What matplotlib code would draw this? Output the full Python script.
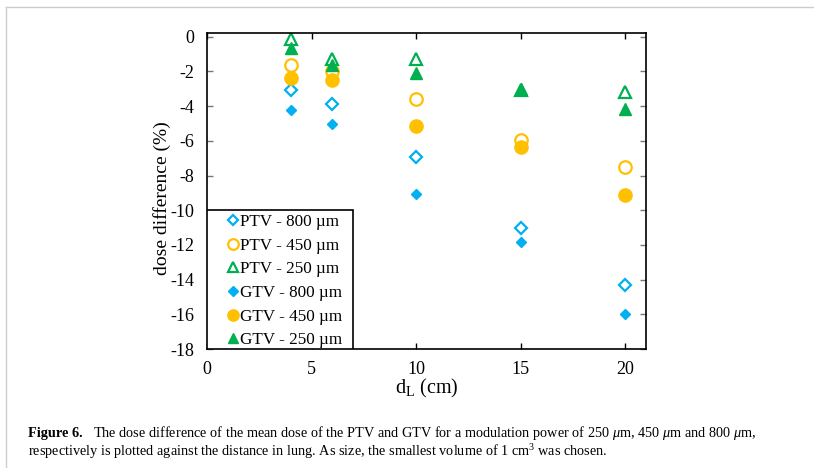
import matplotlib
matplotlib.use("Agg")
import matplotlib.pyplot as plt
from matplotlib.lines import Line2D
from matplotlib.patches import Rectangle

plt.rcParams['font.family'] = ['Liberation Serif', 'DejaVu Serif']
plt.rcParams['mathtext.fontset'] = 'custom'
plt.rcParams['mathtext.rm'] = 'Liberation Serif'
plt.rcParams['mathtext.it'] = 'Liberation Serif:italic'
plt.rcParams['axes.unicode_minus'] = False

# data
d_L = [4, 6, 10, 15, 20]
ptv_800 = [-3.05, -3.9, -6.95, -11.0, -14.3]
ptv_450 = [-1.65, -1.95, -3.6, -5.95, -7.5]
ptv_250 = [-0.1, -1.3, -1.3, -3.05, -3.2]
gtv_800 = [-4.25, -5.0, -9.05, -11.85, -16.0]
gtv_450 = [-2.4, -2.5, -5.15, -6.35, -9.1]
gtv_250 = [-0.65, -1.65, -2.1, -3.0, -4.15]

blue = '#00B0F0'
orange = '#FFC000'
green = '#00B050'

fig = plt.figure(figsize=(8.14, 4.68), dpi=100)
ax = fig.add_axes([207 / 814, 1 - 349 / 468, (646 - 207) / 814, (349 - 33.3) / 468])

# open markers (PTV)
ax.plot(d_L, ptv_800, 'D', ls='none', mfc='white', mec=blue, mew=1.6, ms=6.5, label='PTV - 800 µm')
ax.plot(d_L, ptv_450, 'o', ls='none', mfc='white', mec=orange, mew=1.6, ms=9, label='PTV - 450 µm')
ax.plot(d_L, ptv_250, '^', ls='none', mfc='white', mec=green, mew=1.6, ms=8.5, label='PTV - 250 µm')
# filled markers (GTV)
ax.plot(d_L, gtv_800, 'D', ls='none', color=blue, ms=5.5, label='GTV - 800 µm')
ax.plot(d_L, gtv_450, 'o', ls='none', color=orange, ms=9.5, label='GTV - 450 µm')
ax.plot(d_L, gtv_250, '^', ls='none', color=green, ms=8, label='GTV - 250 µm')

ax.set_xlim(0, 21)
ax.set_ylim(-18, 0.2)
ax.set_xticks([0, 5, 10, 15, 20])
ax.set_yticks(range(-18, 1, 2))
ax.tick_params(direction='in', top=True, right=True, labelsize=13, length=4, width=1, pad=9)
ax.tick_params(axis='y', colors='#777777', labelcolor='black')
for s in ax.spines.values():
    s.set_linewidth(1.2)

ax.set_xlabel('d$_\\mathrm{L}$ (cm)', fontsize=14.5, labelpad=-1)
ax.set_ylabel('dose difference (%)', fontsize=14)
ax.yaxis.set_label_coords(-0.082, 0.478)

# legend box sits in the lower left corner of the axes
ax.add_patch(Rectangle((0, -18), 7, 8, fill=True, facecolor='white', edgecolor='black',
                       lw=1.2, zorder=4))
leg = ax.legend(loc='center left', bbox_to_anchor=(0.047, 0.215), borderaxespad=0, borderpad=0,
                fontsize=12.3, handlelength=0.6, handletextpad=0.15, labelspacing=0.45,
                markerscale=0.85, frameon=False)
leg.set_zorder(5)

# caption
fig.text(28 / 814, 1 - 433 / 468, 'Figure 6.', fontsize=10.3, fontweight='bold', va='center')
fig.text(93 / 814, 1 - 433 / 468,
         'The dose difference of the mean dose of the PTV and GTV for a modulation power of 250 $\\mu$m, '
         '450 $\\mu$m and 800 $\\mu$m,', fontsize=10.3, va='center')
fig.text(28 / 814, 1 - 452 / 468,
         'respectively is plotted against the distance in lung. As size, the smallest volume of 1 cm$^3$ was chosen.',
         fontsize=10.3, va='center')

# page frame lines
fig.add_artist(Line2D([6 / 814, 1], [1 - 7 / 468, 1 - 7 / 468], transform=fig.transFigure, color='#cccccc', lw=1))
fig.add_artist(Line2D([6 / 814, 6 / 814], [0, 1 - 7 / 468], transform=fig.transFigure, color='#cccccc', lw=1))

fig.savefig('out.png', dpi=100)
